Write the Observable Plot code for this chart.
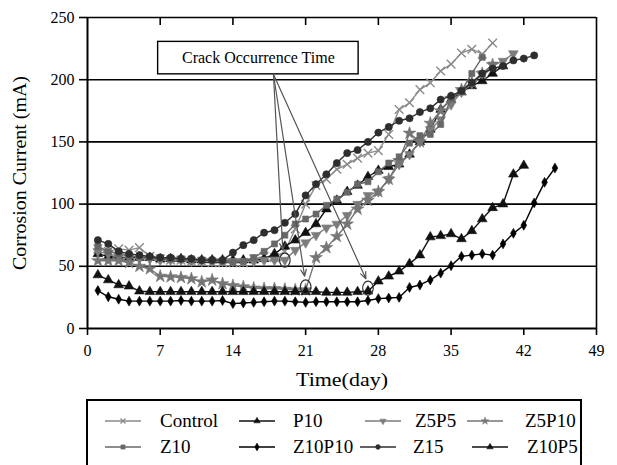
<!DOCTYPE html>
<html>
<head>
<meta charset="utf-8">
<script src="https://cdn.jsdelivr.net/npm/d3@7"></script>
<script src="https://cdn.jsdelivr.net/npm/@observablehq/plot@0.6"></script>
<style>
  body { margin: 0; background: #fff; }
  #chart { position: relative; width: 617px; height: 465px; overflow: hidden; font-family: "Liberation Serif", "Times New Roman", serif; }
  #chart > svg { position: absolute; left: 0; top: 0; }
  #legend { position: absolute; left: 86px; top: 399px; width: 496px; height: 90px; border: 2px solid #000; box-sizing: border-box; background: #fff; }
  .item { position: absolute; height: 20px; display: flex; align-items: center; font-size: 19px; color: #000; white-space: nowrap; }
  .item svg { display: block; }
</style>
</head>
<body>
<div id="chart"></div>
<script>
// Corrosion current (mA) measured once a day, starting on day 1
const control = [64, 62, 64, 63, 65, 58, 56, 55, 55, 54, 54, 53, 53, 53, 53, 56, 58, 57, 62, 80,
  100, 115, 120, 128, 132, 137, 141, 143, 156, 176, 181.5, 192, 197.5, 207, 212.5, 221.5, 224.5, 220.5, 229.5];
const p10 = [60, 58, 57, 57, 57, 57, 56, 56, 56, 55, 55, 55, 55, 55, 55, 55, 56, 60, 66, 71,
  77, 84, 96, 103, 110, 115, 122, 127, 130, 132, 140, 150, 160, 176, 184, 190, 195, 199, 205, 211];
const z5p5 = [62, 60, 58, 57, 56, 56, 55, 55, 55, 54, 54, 54, 54, 54, 54, 54, 55, 55, 55, 63,
  69, 75, 81, 84, 91, 100, 107, 110, 120, 132, 140, 150, 160, 168, 180, 190, 197, 205, 212, 215, 221];
const z5p10 = [54.5, 54.5, 54.5, 53, 50, 48, 42, 41.5, 41, 40, 37.5, 39, 36, 34.5, 33.5, 32.5, 32, 32, 31.5, 31,
  31, 57, 65, 74, 84, 96, 103, 110, 120, 135, 157, 150, 165, 175, 185, 192, 198, 205, 212];
const z10 = [66, 62, 60, 58, 58, 57, 57, 56, 56, 56, 55, 55, 54, 53, 54, 57, 62, 68, 75, 84,
  88, 92, 99, 104, 109.5, 116, 118, 126, 133, 138, 149, 155, 156, 164, 185, 191, 205, 218];
const z10p10 = [30.5, 25.5, 23.5, 22, 22, 22, 22, 22, 22.5, 22, 22, 22, 22.5, 20, 20.5, 21, 21.5, 22, 22, 21.5,
  21, 21.5, 21.5, 21.5, 21.5, 21.5, 22.5, 24, 24.5, 25, 33, 35, 39, 44.5, 50.5, 58, 59, 60, 59, 68,
  76.5, 83, 101, 117.5, 129];
const z15 = [71, 68, 62, 60, 59, 58, 57, 57, 56, 56, 55, 55, 55, 61, 67, 71, 77, 79, 85, 92,
  107, 116, 124, 133, 141, 143.5, 150, 157.5, 162, 167, 169, 174, 177, 184, 187, 191, 197.5, 205, 209, 211,
  215.5, 217, 219.5];
const z10p5 = [43, 39, 35, 34, 30, 29.5, 29.5, 29.5, 29.5, 29.5, 29.5, 29.5, 29.5, 29.5, 29.5, 29.5, 29.5, 29.5, 29.5, 29.5,
  29.5, 29.5, 29, 29, 29, 29.5, 30, 38, 42, 46, 52, 59, 73.5, 74.5, 76, 72, 78.5, 88, 97, 100,
  124, 131];

const xTicks = [0, 7, 14, 21, 28, 35, 42, 49];
const yTicks = [0, 50, 100, 150, 200, 250];

// Crack onset markers: [day, current]
const crackPoints = [[19, 55], [21, 33.5], [27, 32.5]];
// Callout box and its leader arrows (day / current units)
const calloutBox = {x1: 6.8, x2: 26.1, y1: 204.3, y2: 230.4, label: "Crack Occurrence Time"};
const calloutFrom = [17.9, 204.4];
const calloutTo = [[18.8, 63], [20.9, 42], [26.8, 40]];

// custom marker shapes
const sqrt3 = Math.sqrt(3);
const triangleDown = {
  draw(ctx, size) {
    const y = -Math.sqrt(size / (sqrt3 * 3));
    ctx.moveTo(0, -y * 2);
    ctx.lineTo(-sqrt3 * y, y);
    ctx.lineTo(sqrt3 * y, y);
    ctx.closePath();
  }
};
const ellipse = {
  draw(ctx) {
    const rx = 5.3, ry = 7, k = 0.5523;
    ctx.moveTo(rx, 0);
    ctx.bezierCurveTo(rx, ry * k, rx * k, ry, 0, ry);
    ctx.bezierCurveTo(-rx * k, ry, -rx, ry * k, -rx, 0);
    ctx.bezierCurveTo(-rx, -ry * k, -rx * k, -ry, 0, -ry);
    ctx.bezierCurveTo(rx * k, -ry, rx, -ry * k, rx, 0);
    ctx.closePath();
  }
};

const series = [
  {name: "Control", values: control, color: "#8a8a8a", symbol: "times", r: 4, filled: false},
  {name: "P10", values: p10, color: "#111111", symbol: "triangle", r: 3.6, filled: true},
  {name: "Z5P5", values: z5p5, color: "#7c7c7c", symbol: triangleDown, r: 3.6, filled: true},
  {name: "Z5P10", values: z5p10, color: "#757575", symbol: "star", r: 4, filled: true},
  {name: "Z10", values: z10, color: "#676767", symbol: "square", r: 3.4, filled: true},
  {name: "Z10P10", values: z10p10, color: "#000000", symbol: "diamond", r: 3, filled: true},
  {name: "Z15", values: z15, color: "#2e2e2e", symbol: "circle", r: 3.6, filled: true},
  {name: "Z10P5", values: z10p5, color: "#111111", symbol: "triangle", r: 3.6, filled: true}
];

const rows = series.map(s => s.values.map((v, i) => ({series: s.name, day: i + 1, value: v})));

const W = 617, H = 395;
const mL = 87, mR = 21, mT = 17, mB = H - 328;
const frameH = H - mT - mB;

const yTitle = "Corrosion Current (mA)";
const xTitle = "Time(day)";

const marks = [
  Plot.ruleY([50, 100, 150, 200, 250], {stroke: "#000", strokeWidth: 1.6}),
  Plot.ruleX([0], {stroke: "#000", strokeWidth: 2}),
  Plot.ruleX([49], {stroke: "#000", strokeWidth: 1.6}),
  Plot.ruleY([0], {stroke: "#000", strokeWidth: 2}),
  // inward ticks along the top edge
  Plot.ruleX(xTicks.slice(1, -1), {stroke: "#000", strokeWidth: 1.6, insetBottom: frameH - 8}),
  Plot.axisX({ticks: xTicks, tickSize: 7, tickPadding: 9, tickFormat: d => d, label: null, strokeWidth: 1.6}),
  Plot.axisY({ticks: yTicks, tickSize: 8, tickPadding: 5, tickFormat: d => d, label: null, strokeWidth: 1.6}),
  Plot.text([yTitle], {frameAnchor: "left", rotate: -90, dx: -67, fontSize: 18, textAnchor: "middle"}),
  Plot.text([xTitle], {frameAnchor: "bottom", dy: 57, fontSize: 18})
];

series.forEach((s, i) => {
  marks.push(Plot.line(rows[i], {x: "day", y: "value", stroke: s.color, strokeWidth: 1.4}));
  marks.push(Plot.dot(rows[i], {
    x: "day", y: "value", symbol: s.symbol, r: s.r,
    fill: s.filled ? s.color : "none", stroke: s.color, strokeWidth: s.filled ? 0.6 : 1.4
  }));
});

// callout
marks.push(
  Plot.rect([calloutBox], {x1: "x1", x2: "x2", y1: "y1", y2: "y2", fill: "#fff", stroke: "#000", strokeWidth: 1.4}),
  Plot.text([calloutBox], {x: d => (d.x1 + d.x2) / 2, y: d => (d.y1 + d.y2) / 2, text: "label", fontSize: 16}),
  Plot.arrow(calloutTo, {
    x1: () => calloutFrom[0], y1: () => calloutFrom[1], x2: d => d[0], y2: d => d[1],
    stroke: "#555", strokeWidth: 1.2, headLength: 9, headAngle: 45
  }),
  Plot.dot(crackPoints, {x: d => d[0], y: d => d[1], symbol: ellipse, fill: "none", stroke: "#333", strokeWidth: 1.2})
);

const chart = Plot.plot({
  width: W, height: H,
  marginLeft: mL, marginRight: mR, marginTop: mT, marginBottom: mB,
  style: {fontFamily: "'Liberation Serif', 'Times New Roman', serif", fontSize: "16px", color: "#000", background: "#fff"},
  x: {domain: [0, 49], axis: null},
  y: {domain: [0, 250], axis: null},
  marks
});
const root = document.getElementById("chart");
root.append(chart);

// widen the two axis titles to their printed lengths
const titleLengths = new Map([[yTitle, 194], [xTitle, 92]]);
d3.select(chart).selectAll("text").each(function () {
  const len = titleLengths.get(this.textContent);
  if (len) d3.select(this).attr("textLength", len).attr("lengthAdjust", "spacingAndGlyphs");
});

// legend
const legend = document.createElement("div");
legend.id = "legend";
root.append(legend);
// [swatch left, label left, row centre] in page pixels
const legendSlots = [
  [105, 160, 421], [239, 293, 421], [365, 415, 421], [467, 525, 421],
  [105, 160, 447], [239, 293, 447], [360, 413, 447], [472, 527, 447]
];
series.forEach((s, i) => {
  const [sx, tx, cy] = legendSlots[i];
  const div = d3.select(root).append("div").attr("class", "item")
    .style("left", sx + "px").style("top", (cy - 10) + "px");
  const sw = div.append("svg").attr("width", 36).attr("height", 14);
  sw.append("line").attr("x1", 0).attr("x2", 36).attr("y1", 7).attr("y2", 7)
    .attr("stroke", s.color).attr("stroke-width", 1.6);
  const sym = typeof s.symbol === "string"
    ? {times: d3.symbolTimes, triangle: d3.symbolTriangle, star: d3.symbolStar, square: d3.symbolSquare, diamond: d3.symbolDiamond, circle: d3.symbolCircle}[s.symbol]
    : s.symbol;
  sw.append("path").attr("transform", "translate(18,7)")
    .attr("d", d3.symbol(sym, 18)())
    .attr("fill", s.filled ? s.color : "none").attr("stroke", s.color).attr("stroke-width", s.filled ? 0.5 : 1.2);
  div.append("span").style("margin-left", (tx - sx - 36) + "px").text(s.name);
});
</script>
</body>
</html>
